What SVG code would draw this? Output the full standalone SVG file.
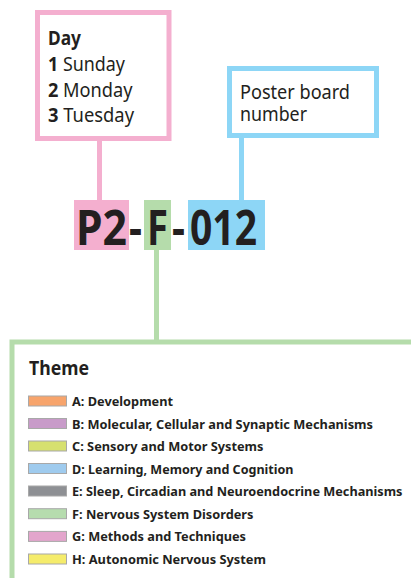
<svg xmlns="http://www.w3.org/2000/svg" width="411" height="578" viewBox="0 0 411 578">
<style>
text{font-family:"Noto Sans","Liberation Sans",sans-serif;fill:#231f20}
.b{font-weight:bold}
.m{font-size:19px}
.big{font-size:48px;font-weight:bold}
.lg{font-size:13px;font-weight:bold}
.sw{stroke:#a8a8a8;stroke-width:1}
.frame{fill:#fff;stroke-width:5}
</style>
<rect width="411" height="578" fill="#fff"/>
<g id="connectors" stroke-width="5" fill="none">
<line x1="99.5" y1="140" x2="99.5" y2="201" stroke="#f4afcf"/>
<line x1="241.5" y1="137" x2="241.5" y2="201" stroke="#8dd6f6"/>
<line x1="156.5" y1="249" x2="156.5" y2="342" stroke="#b5dcab"/>
</g>
<g id="day">
<rect class="frame" x="37.5" y="12.5" width="131.5" height="126" stroke="#f4afcf"/>
<text class="m b" x="48" y="45" textLength="33" lengthAdjust="spacingAndGlyphs">Day</text>
<text class="m" x="48" y="71" textLength="77" lengthAdjust="spacingAndGlyphs"><tspan class="b">1</tspan> Sunday</text>
<text class="m" x="48" y="97" textLength="84.5" lengthAdjust="spacingAndGlyphs"><tspan class="b">2</tspan> Monday</text>
<text class="m" x="48" y="122" textLength="86" lengthAdjust="spacingAndGlyphs"><tspan class="b">3</tspan> Tuesday</text>
</g>
<g id="board">
<rect class="frame" x="229.5" y="68.5" width="147" height="67" stroke="#8dd6f6"/>
<text class="m"><tspan x="240" y="99" textLength="110" lengthAdjust="spacingAndGlyphs">Poster board</tspan><tspan x="240" y="121" textLength="67" lengthAdjust="spacingAndGlyphs">number</tspan></text>
</g>
<g id="code">
<rect x="74" y="200" width="55" height="50" fill="#f4afcf"/>
<rect x="144" y="200" width="27" height="50" fill="#b5dcab"/>
<rect x="188" y="200" width="77" height="50" fill="#8dd6f6"/>
<text class="big" y="245"><tspan x="76" textLength="51" lengthAdjust="spacingAndGlyphs">P2</tspan><tspan x="129" textLength="13" lengthAdjust="spacingAndGlyphs">-</tspan><tspan x="147" textLength="21" lengthAdjust="spacingAndGlyphs">F</tspan><tspan x="172" textLength="13" lengthAdjust="spacingAndGlyphs">-</tspan><tspan x="190" textLength="67" lengthAdjust="spacingAndGlyphs">012</tspan></text>
</g>
<g id="theme">
<rect class="frame" x="12" y="342" width="420" height="260" stroke="#b5dcab"/>
<text class="m b" x="29" y="375" textLength="60" lengthAdjust="spacingAndGlyphs">Theme</text>
<rect class="sw" x="28.5" y="396" width="38" height="10" fill="#f7a46c"/>
<text class="lg" x="72" y="406" textLength="101" lengthAdjust="spacingAndGlyphs">A: Development</text>
<rect class="sw" x="28.5" y="418.5" width="38" height="10" fill="#c89bc9"/>
<text class="lg" x="72" y="428.5" textLength="301" lengthAdjust="spacingAndGlyphs">B: Molecular, Cellular and Synaptic Mechanisms</text>
<rect class="sw" x="28.5" y="441" width="38" height="10" fill="#d6e06f"/>
<text class="lg" x="72" y="451" textLength="191.5" lengthAdjust="spacingAndGlyphs">C: Sensory and Motor Systems</text>
<rect class="sw" x="28.5" y="463.5" width="38" height="10" fill="#9fcbee"/>
<text class="lg" x="72" y="473.5" textLength="221.5" lengthAdjust="spacingAndGlyphs">D: Learning, Memory and Cognition</text>
<rect class="sw" x="28.5" y="486" width="38" height="10" fill="#8e9094"/>
<text class="lg" x="72" y="496" textLength="330.5" lengthAdjust="spacingAndGlyphs">E: Sleep, Circadian and Neuroendocrine Mechanisms</text>
<rect class="sw" x="28.5" y="508.7" width="38" height="10" fill="#b6dcae"/>
<text class="lg" x="72" y="518.7" textLength="181.5" lengthAdjust="spacingAndGlyphs">F: Nervous System Disorders</text>
<rect class="sw" x="28.5" y="531.4" width="38" height="10" fill="#e3a5cc"/>
<text class="lg" x="72" y="541.4" textLength="174" lengthAdjust="spacingAndGlyphs">G: Methods and Techniques</text>
<rect class="sw" x="28.5" y="554" width="38" height="10" fill="#f5ec6b"/>
<text class="lg" x="72" y="564" textLength="194" lengthAdjust="spacingAndGlyphs">H: Autonomic Nervous System</text>
</g>
</svg>
